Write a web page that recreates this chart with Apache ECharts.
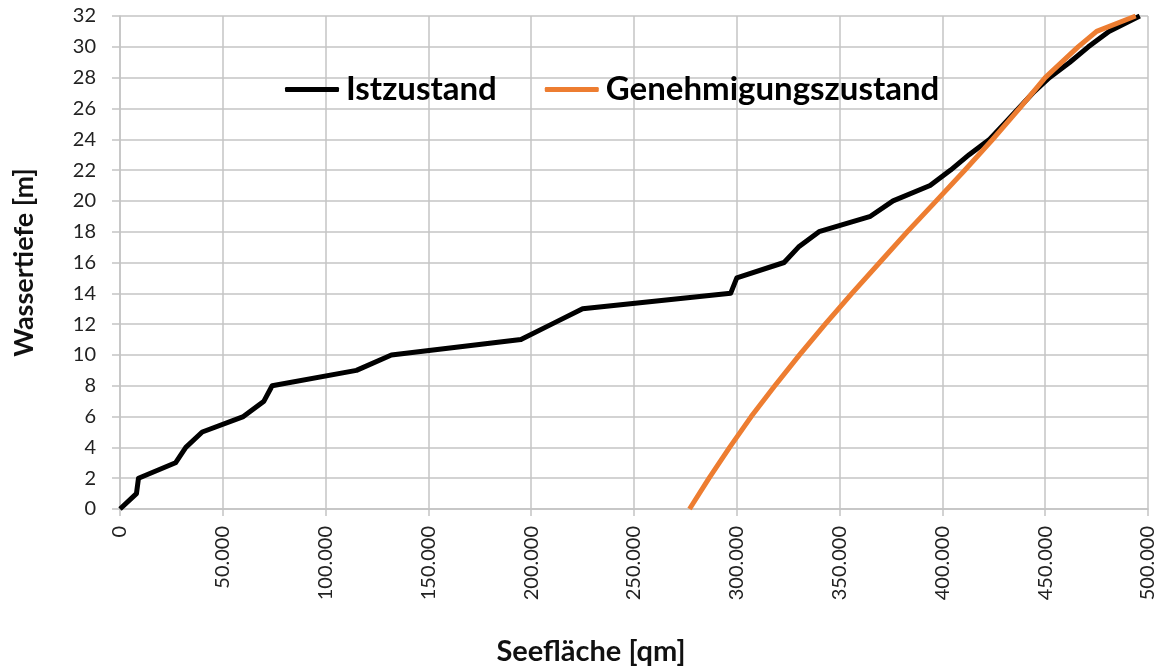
<!DOCTYPE html>
<html>
<head>
<meta charset="utf-8">
<script src="https://cdn.jsdelivr.net/npm/echarts@6/dist/echarts.min.js"></script>
<style>
  html, body { margin: 0; padding: 0; background: #fff; }
  #dom { width: 1163px; height: 666px; }
</style>
</head>
<body>
<div id="dom"></div>
<script>
// Istzustand: Seefläche [qm] je Wassertiefe [m]
var istFlaeche = [0, 8000, 9000, 27000, 32000, 40000, 60000, 70000, 74000, 115000, 132000, 195000, 210000, 225000, 297000, 300000, 323000, 330000, 340000, 365000, 376000, 394000, 404000, 413000, 423000, 430000, 437000, 444000, 452000, 462000, 471000, 481000, 496000];
var istTiefe = [0, 1, 2, 3, 4, 5, 6, 7, 8, 9, 10, 11, 12, 13, 14, 15, 16, 17, 18, 19, 20, 21, 22, 23, 24, 25, 26, 27, 28, 29, 30, 31, 32];

// Genehmigungszustand
var genFlaeche = [277000, 286500, 296500, 307000, 318500, 330500, 343000, 356000, 369500, 383000, 397000, 411000, 424500, 437500, 450000, 466000, 475000, 494000];
var genTiefe = [0, 2, 4, 6, 8, 10, 12, 14, 16, 18, 20, 22, 24, 26, 28, 30, 31, 32];

function paare(xs, ys) {
  var list = [];
  for (var i = 0; i < xs.length; i++) {
    list.push([xs[i], ys[i]]);
  }
  return list;
}

var gridFarbe = '#c4c4c4';
var schrift = 'Lato, "Open Sans", sans-serif';

var myChart = echarts.init(document.getElementById('dom'));
var option = {
  animation: false,
  grid: {
    left: 120,
    right: 15,
    top: 16,
    bottom: 157,
    outerBoundsMode: 'none'
  },
  legend: {
    data: ['Istzustand', 'Genehmigungszustand'],
    left: 280,
    top: 68,
    itemWidth: 54,
    itemHeight: 5,
    itemGap: 48,
    icon: 'roundRect',
    textStyle: {
      fontFamily: schrift,
      fontSize: 33,
      fontWeight: 'bold',
      color: '#000',
      padding: [0, 0, 0, 2]
    }
  },
  xAxis: {
    type: 'value',
    min: 0,
    max: 500000,
    interval: 50000,
    name: 'Seefläche [qm]',
    nameLocation: 'middle',
    nameGap: 128,
    nameTextStyle: {
      fontFamily: schrift,
      fontSize: 29,
      fontWeight: 'bold',
      color: '#111',
      padding: [0, 86, 0, 0]
    },
    axisLine: { show: true, lineStyle: { color: gridFarbe, width: 1.5 } },
    axisTick: { show: true, length: 7, lineStyle: { color: gridFarbe, width: 1.5 } },
    splitLine: { show: true, lineStyle: { color: gridFarbe, width: 1.5 } },
    axisLabel: {
      rotate: 90,
      margin: 17,
      fontFamily: schrift,
      fontSize: 20,
      color: '#222',
      formatter: function (v) {
        return v === 0 ? '0' : v.toString().replace(/\B(?=(\d{3})+(?!\d))/g, '.');
      }
    }
  },
  yAxis: {
    type: 'value',
    min: 0,
    max: 32,
    interval: 2,
    name: 'Wassertiefe [m]',
    nameLocation: 'middle',
    nameGap: 82,
    nameTextStyle: {
      fontFamily: schrift,
      fontSize: 27,
      fontWeight: 'bold',
      color: '#111'
    },
    axisLine: { show: true, lineStyle: { color: gridFarbe, width: 1.5 } },
    axisTick: { show: true, length: 8, lineStyle: { color: gridFarbe, width: 1.5 } },
    splitLine: { show: true, lineStyle: { color: gridFarbe, width: 1.5 } },
    axisLabel: {
      margin: 24,
      fontFamily: schrift,
      fontSize: 20,
      color: '#222'
    }
  },
  series: [{
    name: 'Istzustand',
    type: 'line',
    showSymbol: false,
    color: '#000000',
    lineStyle: { width: 5, color: '#000000', join: 'round' },
    data: paare(istFlaeche, istTiefe)
  }, {
    name: 'Genehmigungszustand',
    type: 'line',
    showSymbol: false,
    color: '#ed7d31',
    lineStyle: { width: 5, color: '#ed7d31', join: 'round' },
    data: paare(genFlaeche, genTiefe)
  }]
};
myChart.setOption(option);
</script>
</body>
</html>
